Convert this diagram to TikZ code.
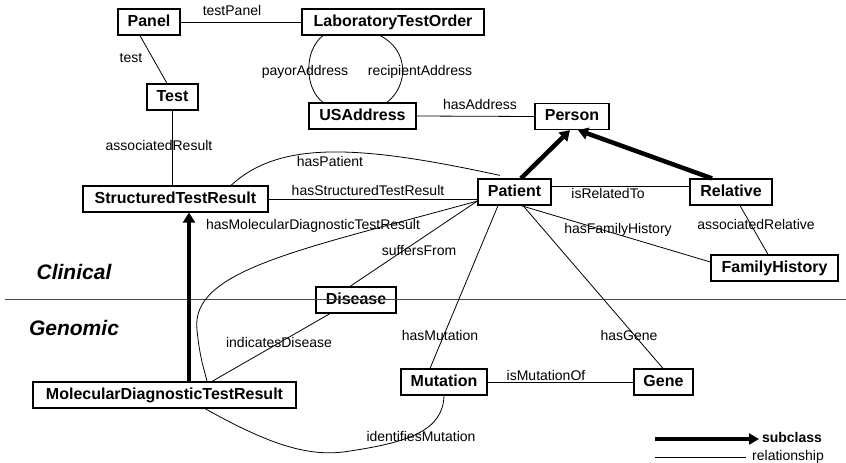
\documentclass[tikz,border=0pt]{standalone}
\usepackage{fontspec}
\setmainfont{Liberation Sans}
\usetikzlibrary{arrows.meta}
\begin{document}
\begin{tikzpicture}[x=1pt,y=-1pt,
  cls/.style={draw,line width=1.2pt,minimum height=26pt,inner sep=0pt,
    font=\bfseries\fontsize{16}{16}\selectfont,text height=11.5pt,text depth=3pt},
  rel/.style={line width=0.8pt},
  sub/.style={line width=4.5pt,-{Triangle[length=10pt,width=12pt]}},
  lbl/.style={font=\fontsize{14}{14}\selectfont,inner sep=0pt,text height=10pt,text depth=2.5pt},
  region/.style={font=\bfseries\itshape\fontsize{21}{21}\selectfont,inner sep=0pt}]
\useasboundingbox (0,0) rectangle (846,463);

% classes
\node[cls,minimum width=62pt]  (panel)    at (149,22)    {Panel};
\node[cls,minimum width=182pt] (lto)      at (393,22)    {LaboratoryTestOrder};
\node[cls,minimum width=51pt]  (test)     at (172.5,97)  {Test};
\node[cls,minimum width=107pt] (usaddr)   at (362.5,116) {USAddress};
\node[cls,minimum width=74pt]  (person)   at (572,116.5) {Person};
\node[cls,minimum width=185pt] (str)      at (175.5,199) {StructuredTestResult};
\node[cls,minimum width=73pt]  (patient)  at (514.5,192) {Patient};
\node[cls,minimum width=82pt]  (relative) at (731,192)   {Relative};
\node[cls,minimum width=127pt] (fh)       at (774.5,268) {FamilyHistory};
\node[cls,minimum width=80pt]  (disease)  at (356,300)   {Disease};
\node[cls,minimum width=263pt] (mdtr)     at (164.5,395) {MolecularDiagnosticTestResult};
\node[cls,minimum width=86pt]  (mutation) at (444,382)   {Mutation};
\node[cls,minimum width=59pt]  (gene)     at (663.5,382) {Gene};

% separator between the clinical and genomic layers
\coordinate (sepL) at (5,299.5);
\coordinate (sepR) at (846,299.5);
\draw[line width=1.8pt,black!72] (sepL) -- (sepR);
\node[region] (clinical) at (74,272) {Clinical};
\node[region] (genomic)  at (74,328) {Genomic};

% relationships
\draw[rel] (panel.east) -- (lto.west);
\draw[rel] ([xshift=-9pt]panel.south) -- ([xshift=-5.5pt]test.north);
% the two address links bow apart between the order and the address
\draw[rel] ([xshift=-70pt]lto.south) .. controls (304,50) and (304,88) .. ([xshift=-39.5pt]usaddr.north);
\draw[rel] ([xshift=-13pt]lto.south) .. controls (409,50) and (409,85) .. ([xshift=24.5pt]usaddr.north);
\draw[rel] (usaddr.east) -- (person.west);
\draw[rel] (test.south) -- (test.south |- str.north);
\draw[rel] ([xshift=55.5pt]str.north) .. controls (280,140) and (360,145) .. ([xshift=-14.5pt,yshift=3pt]patient.north);
\draw[rel] (str.east) -- (str.east -| patient.west);
\draw[rel] ([yshift=-9pt]patient.west) .. controls (300,250) and (190,270) .. (197,330)
  .. controls (200,360) and (205,372) .. ([xshift=42.5pt]mdtr.north);
\draw[rel] ([yshift=-9pt]patient.west) -- ([xshift=-6pt]disease.north);
\draw[rel] ([xshift=-16.5pt]patient.south) -- ([xshift=-14pt]mutation.north);
\draw[rel] ([xshift=8.5pt]patient.south) -- ([xshift=-0.5pt]gene.north);
\draw[rel] ([yshift=6pt]patient.east) -- ([yshift=6pt]patient.east -| relative.west);
\draw[rel] ([xshift=6.5pt]patient.south) -- ([yshift=6pt]fh.west);
\draw[rel] ([xshift=9pt]relative.south) -- ([xshift=-6.5pt]fh.north);
\draw[rel] ([xshift=47.5pt]mdtr.north) -- ([xshift=-26pt]disease.south);
\draw[rel] (mutation.east) -- (gene.west);
\draw[rel] ([xshift=40.5pt]mdtr.south) .. controls (270,445) and (310,458) .. (350,451)
  .. controls (410,442) and (443,430) .. (mutation.south);

% subclass links
\draw[sub] ([xshift=6.5pt]patient.north) -- ([xshift=-2pt]person.south);
\draw[sub] ([xshift=-19pt]relative.north) -- ([xshift=6pt]person.south);
\draw[sub] ([xshift=24.5pt]mdtr.north) -- ([xshift=24.5pt]mdtr.north |- str.south);

% relationship labels
\node[lbl] (lTestPanel)  at (232,12)  {testPanel};
\node[lbl] (lTest)       at (131,59)  {test};
\node[lbl] (lPayor)      at (305,72)  {payorAddress};
\node[lbl] (lRecipient)  at (420,72)  {recipientAddress};
\node[lbl] (lHasAddr)    at (480,106) {hasAddress};
\node[lbl] (lAssocRes)   at (159,147) {associatedResult};
\node[lbl] (lHasPatient) at (330,163) {hasPatient};
\node[lbl] (lHasSTR)     at (368,192) {hasStructuredTestResult};
\node[lbl] (lHasMDTR)    at (313,226) {hasMolecularDiagnosticTestResult};
\node[lbl] (lSuffers)    at (419,252) {suffersFrom};
\node[lbl] (lRelated)    at (608,195) {isRelatedTo};
\node[lbl] (lFamHist)    at (618,230) {hasFamilyHistory};
\node[lbl] (lAssocRel)   at (756,226) {associatedRelative};
\node[lbl] (lIndicates)  at (279,344) {indicatesDisease};
\node[lbl] (lHasMut)     at (440,337) {hasMutation};
\node[lbl] (lHasGene)    at (629,337) {hasGene};
\node[lbl] (lMutOf)      at (546,377) {isMutationOf};
\node[lbl] (lIdentifies) at (421,438) {identifiesMutation};

% legend
\coordinate (legA1) at (655,439);
\coordinate (legA2) at (759,439);
\coordinate (legR1) at (655,457);
\coordinate (legR2) at (746,457);
\draw[line width=4.5pt,-{Triangle[length=10pt,width=11pt]}] (legA1) -- (legA2);
\draw[rel] (legR1) -- (legR2);
\node[lbl,font=\bfseries\fontsize{14}{14}\selectfont] (lSubclass) at (792,439) {subclass};
\node[lbl] (lRelationship) at (788,457) {relationship};
\end{tikzpicture}
\end{document}
